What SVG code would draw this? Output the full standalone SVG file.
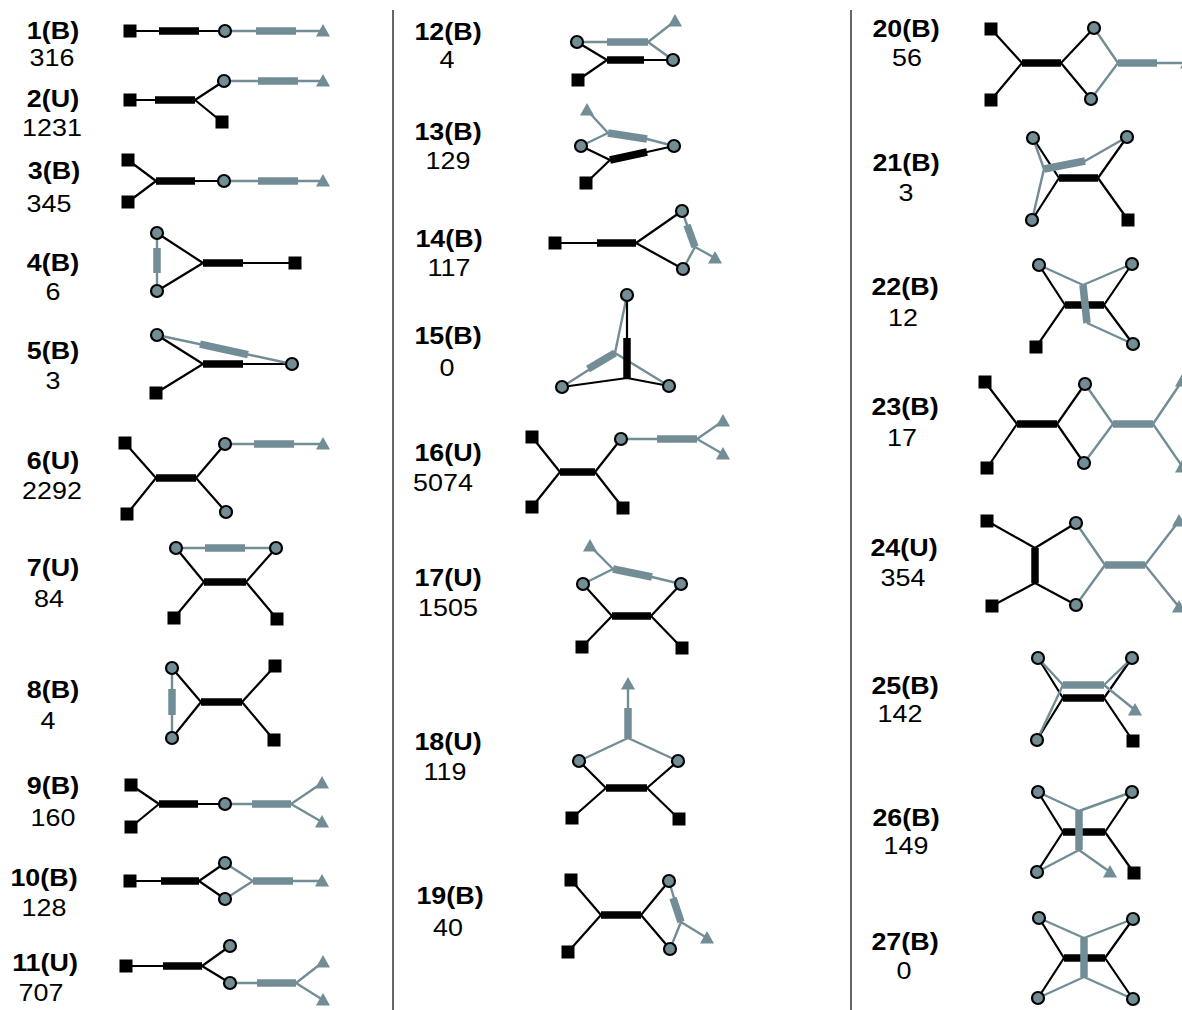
<svg xmlns="http://www.w3.org/2000/svg" xmlns:xlink="http://www.w3.org/1999/xlink" width="1182" height="1010" viewBox="0 0 1182 1010">
<style>
.k{stroke:#000;stroke-width:2.2;fill:none;stroke-linejoin:round}
.g{stroke:#728d95;stroke-width:2.4;fill:none;stroke-linejoin:round}
.kb{stroke:#000;stroke-width:7.5;fill:none}
.gb{stroke:#728d95;stroke-width:7.5;fill:none}
.sq{fill:#000}
.ci{fill:#728d95;stroke:#000;stroke-width:2.2}
.tr{fill:#728d95}
.lb{font-family:"Liberation Sans",Arial,sans-serif;font-weight:bold;font-size:24px;text-anchor:middle;fill:#000}
.nm{font-family:"Liberation Sans",Arial,sans-serif;font-size:24px;text-anchor:middle;fill:#000}
.sep{stroke:#333;stroke-width:1.5}
</style>
<defs>
<rect id="sq" x="-6.5" y="-6.5" width="13" height="13"/>
<circle id="ci" r="6"/>
<polygon id="tr" points="0,-7 7,5.5 -7,5.5"/>
</defs>
<rect width="1182" height="1010" fill="#fff"/>
<g id="separators">
<line class="sep" x1="393" y1="10" x2="393" y2="1010"/>
<line class="sep" x1="851" y1="10" x2="851" y2="1010"/>
</g>
<g id="connectors">
<g id="e1"><path class="k" d="M130,31 H225"/><path class="g" d="M225,31 H323"/><path class="kb" d="M159,31 H199"/><path class="gb" d="M256,31 H296"/></g>
<g id="e2"><path class="k" d="M130,100 H195 L224,81 M195,100 L222,122"/><path class="g" d="M224,81 H323"/><path class="kb" d="M155,100 H195"/><path class="gb" d="M258,81 H298"/></g>
<g id="e3"><path class="k" d="M128,160 L156,181 L128,202 M156,181 H224"/><path class="g" d="M224,181 H323"/><path class="kb" d="M156,181 H195"/><path class="gb" d="M258,181 H298"/></g>
<g id="e4"><path class="k" d="M157,233 L203,263 L157,291 M203,263 H295"/><path class="g" d="M157,233 V291"/><path class="kb" d="M203,263 H243"/><path class="gb" d="M157,248 V273"/></g>
<g id="e5"><path class="k" d="M157,335 L203,364 L156,393 M203,364 H292"/><path class="g" d="M157,335 L292,364"/><path class="kb" d="M203,364 H243"/><path class="gb" d="M200,344.2 L248,354.6"/></g>
<g id="e6"><path class="k" d="M125,443 L156,478 L127,514 M156,478 H196 L225,444 M196,478 L226,512"/><path class="g" d="M225,444 H323"/><path class="kb" d="M156,478 H196"/><path class="gb" d="M254,444 H294"/></g>
<g id="e7"><path class="k" d="M176,548 L204,582 L174,618 M204,582 H246 L276,548 M246,582 L277,619"/><path class="g" d="M176,548 H276"/><path class="kb" d="M204,582 H246"/><path class="gb" d="M205,548 H245"/></g>
<g id="e8"><path class="k" d="M172,668 L201,702 L172,738 M201,702 H242 L275,666 M242,702 L274,740"/><path class="g" d="M172,668 V738"/><path class="kb" d="M201,702 H242"/><path class="gb" d="M172,689 V715"/></g>
<g id="e9"><path class="k" d="M131,785 L159,804 L131,827 M159,804 H225"/><path class="g" d="M225,804 H291 L322,783 M291,804 L322,822"/><path class="kb" d="M159,804 H198"/><path class="gb" d="M252,804 H291"/></g>
<g id="e10"><path class="k" d="M130,881 H199 L225,863 M199,881 L225,899"/><path class="g" d="M225,863 L253,881 L225,899 M253,881 H322"/><path class="kb" d="M161,881 H199"/><path class="gb" d="M253,881 H293"/></g>
<g id="e11"><path class="k" d="M126,966 H202 L230,946 M202,966 L230,983"/><path class="g" d="M230,983 H296 L323,962 M296,983 L323,1000"/><path class="kb" d="M163,966 H202"/><path class="gb" d="M257,983 H296"/></g>
<g id="e12"><path class="k" d="M577,42 L607,60 L578,80 M607,60 H673"/><path class="g" d="M577,42 H648 L675,21 M648,42 L673,60"/><path class="kb" d="M607,60 H644"/><path class="gb" d="M607,42 H648"/></g>
<g id="e13"><path class="k" d="M581,146 L610,160 L586,183 M610,160 L647,152 L674,146"/><path class="g" d="M581,146 L608,133 L587,110 M608,133 L647,139 L674,146"/><path class="kb" d="M610,160 L647,152"/><path class="gb" d="M608,133 L647,139"/></g>
<g id="e14"><path class="k" d="M555,243 H636 L682,211 M636,243 L683,269"/><path class="g" d="M682,211 L695,247 L715,258 M695,247 L683,269"/><path class="kb" d="M597,243 H636"/><path class="gb" d="M687,225 L695,247"/></g>
<g id="e15"><path class="g" d="M627,295 L615,353 L562,387 M615,353 L669,386"/><path class="k" d="M627,295 V378 L562,387 M627,378 L669,386"/><path class="gb" d="M615,353 L588,369"/><path class="kb" d="M627,338 V378"/></g>
<g id="e16"><path class="k" d="M532,437 L560,472 L532,507 M560,472 H595 L621,439 M595,472 L623,508"/><path class="g" d="M621,439 H697 L723,421 M697,439 L723,454"/><path class="kb" d="M560,472 H595"/><path class="gb" d="M657,439 H697"/></g>
<g id="e17"><path class="k" d="M583,584 L612,616 L582,647 M612,616 H651 L681,584 M651,616 L682,648"/><path class="g" d="M583,584 L613,569 L590,546 M613,569 L652,577 L681,584"/><path class="kb" d="M612,616 H651"/><path class="gb" d="M613,569 L652,577"/></g>
<g id="e18"><path class="k" d="M579,761 L606,788 L572,818 M606,788 H647 L678,761 M647,788 L679,819"/><path class="g" d="M579,761 L628,738 L678,761 M628,738 V684"/><path class="kb" d="M606,788 H647"/><path class="gb" d="M628,708 V738"/></g>
<g id="e19"><path class="k" d="M571,880 L601,915 L568,952 M601,915 H641 L669,881 M641,915 L670,949"/><path class="g" d="M669,881 L681,922 L707,938 M681,922 L670,949"/><path class="kb" d="M601,915 H641"/><path class="gb" d="M673,898 L681,922"/></g>
<g id="e20"><path class="k" d="M991,29 L1022,63 L991,100 M1022,63 H1061 L1094,28 M1061,63 L1091,99"/><path class="g" d="M1094,28 L1118,63 L1091,99 M1118,63 H1186"/><path class="kb" d="M1022,63 H1061"/><path class="gb" d="M1118,63 H1157"/></g>
<g id="e21"><path class="k" d="M1033,138 L1059,178 L1032,220 M1059,178 H1098 L1127,137 M1098,178 L1128,220"/><path class="g" d="M1033,138 L1044,169 L1032,220 M1044,169 L1085,161 L1127,137"/><path class="kb" d="M1059,178 H1098"/><path class="gb" d="M1044,169 L1085,161"/></g>
<g id="e22"><path class="k" d="M1039,265 L1065,305 L1036,347 M1065,305 H1104 L1132,264 M1104,305 L1133,344"/><path class="g" d="M1039,265 L1083,285 L1132,264 M1087,323 L1133,344"/><path class="kb" d="M1065,305 H1104"/><path class="gb" d="M1083,285 L1087,323"/></g>
<g id="e23"><path class="k" d="M985,382 L1017,424 L987,468 M1017,424 H1057 L1085,384 M1057,424 L1084,463"/><path class="g" d="M1085,384 L1113,424 L1084,463 M1113,424 H1153 L1182,381 M1153,424 L1182,466"/><path class="kb" d="M1017,424 H1057"/><path class="gb" d="M1113,424 H1153"/></g>
<g id="e24"><path class="k" d="M987,521 L1035,548 L1076,523 M992,606 L1035,583 L1076,605"/><path class="g" d="M1076,523 L1105,565 L1076,605 M1105,565 H1145 L1179,521 M1145,565 L1179,607"/><path class="kb" d="M1035,548 V583"/><path class="gb" d="M1105,565 H1145"/></g>
<g id="e25"><path class="k" d="M1038,658 L1063,698 L1037,740 M1063,698 H1104 L1132,658 M1104,698 L1133,741"/><path class="g" d="M1038,658 L1063,685 L1037,740 M1063,685 H1104 L1132,658 M1104,685 L1135,710"/><path class="kb" d="M1063,698 H1104"/><path class="gb" d="M1063,685 H1104"/></g>
<g id="e26"><path class="k" d="M1038,792 L1063,832 L1037,872 M1063,832 H1105 L1132,792 M1105,832 L1134,873"/><path class="g" d="M1038,792 L1079,811 L1132,792 M1037,872 L1079,850 L1110,872"/><path class="kb" d="M1063,832 H1105"/><path class="gb" d="M1079,811 V850"/></g>
<g id="e27"><path class="k" d="M1039,918 L1064,958 L1038,998 M1064,958 H1105 L1133,919 M1105,958 L1133,999"/><path class="g" d="M1039,918 L1084,938 L1133,919 M1038,998 L1084,977 L1133,999"/><path class="kb" d="M1064,958 H1105"/><path class="gb" d="M1084,938 V977"/></g>
</g>
<g id="m1"><use href="#sq" class="sq" x="130" y="31"/><use href="#ci" class="ci" x="225" y="31"/><use href="#tr" class="tr" x="323" y="31"/><text class="lb" transform="translate(53,39) scale(1.12,1)">1(B)</text><text class="nm" transform="translate(52,66) scale(1.12,1)">316</text></g>
<g id="m2"><use href="#sq" class="sq" x="130" y="100"/><use href="#sq" class="sq" x="222" y="122"/><use href="#ci" class="ci" x="224" y="81"/><use href="#tr" class="tr" x="323" y="81"/><text class="lb" transform="translate(53,107) scale(1.12,1)">2(U)</text><text class="nm" transform="translate(52,136) scale(1.12,1)">1231</text></g>
<g id="m3"><use href="#sq" class="sq" x="128" y="160"/><use href="#sq" class="sq" x="128" y="202"/><use href="#ci" class="ci" x="224" y="181"/><use href="#tr" class="tr" x="323" y="181"/><text class="lb" transform="translate(54,179) scale(1.12,1)">3(B)</text><text class="nm" transform="translate(49,212) scale(1.12,1)">345</text></g>
<g id="m4"><use href="#ci" class="ci" x="157" y="233"/><use href="#ci" class="ci" x="157" y="291"/><use href="#sq" class="sq" x="295" y="263"/><text class="lb" transform="translate(53,271) scale(1.12,1)">4(B)</text><text class="nm" transform="translate(53,300) scale(1.12,1)">6</text></g>
<g id="m5"><use href="#ci" class="ci" x="157" y="335"/><use href="#ci" class="ci" x="292" y="364"/><use href="#sq" class="sq" x="156" y="393"/><text class="lb" transform="translate(53,359) scale(1.12,1)">5(B)</text><text class="nm" transform="translate(53,389) scale(1.12,1)">3</text></g>
<g id="m6"><use href="#sq" class="sq" x="125" y="443"/><use href="#sq" class="sq" x="127" y="514"/><use href="#ci" class="ci" x="225" y="444"/><use href="#ci" class="ci" x="226" y="512"/><use href="#tr" class="tr" x="323" y="444"/><text class="lb" transform="translate(53,469) scale(1.12,1)">6(U)</text><text class="nm" transform="translate(52,499) scale(1.12,1)">2292</text></g>
<g id="m7"><use href="#ci" class="ci" x="176" y="548"/><use href="#ci" class="ci" x="276" y="548"/><use href="#sq" class="sq" x="174" y="618"/><use href="#sq" class="sq" x="277" y="619"/><text class="lb" transform="translate(53,576) scale(1.12,1)">7(U)</text><text class="nm" transform="translate(49,607) scale(1.12,1)">84</text></g>
<g id="m8"><use href="#ci" class="ci" x="172" y="668"/><use href="#ci" class="ci" x="172" y="738"/><use href="#sq" class="sq" x="275" y="666"/><use href="#sq" class="sq" x="274" y="740"/><text class="lb" transform="translate(53,698) scale(1.12,1)">8(B)</text><text class="nm" transform="translate(48,729) scale(1.12,1)">4</text></g>
<g id="m9"><use href="#sq" class="sq" x="131" y="785"/><use href="#sq" class="sq" x="131" y="827"/><use href="#ci" class="ci" x="225" y="804"/><use href="#tr" class="tr" x="322" y="783"/><use href="#tr" class="tr" x="322" y="822"/><text class="lb" transform="translate(53,794) scale(1.12,1)">9(B)</text><text class="nm" transform="translate(53,826) scale(1.12,1)">160</text></g>
<g id="m10"><use href="#sq" class="sq" x="130" y="881"/><use href="#ci" class="ci" x="225" y="863"/><use href="#ci" class="ci" x="225" y="899"/><use href="#tr" class="tr" x="322" y="881"/><text class="lb" transform="translate(44,886) scale(1.12,1)">10(B)</text><text class="nm" transform="translate(44,916) scale(1.12,1)">128</text></g>
<g id="m11"><use href="#sq" class="sq" x="126" y="966"/><use href="#ci" class="ci" x="230" y="946"/><use href="#ci" class="ci" x="230" y="983"/><use href="#tr" class="tr" x="323" y="962"/><use href="#tr" class="tr" x="323" y="1000"/><text class="lb" transform="translate(45,971) scale(1.12,1)">11(U)</text><text class="nm" transform="translate(41,1001) scale(1.12,1)">707</text></g>
<g id="m12"><use href="#ci" class="ci" x="577" y="42"/><use href="#ci" class="ci" x="673" y="60"/><use href="#sq" class="sq" x="578" y="80"/><use href="#tr" class="tr" x="675" y="21"/><text class="lb" transform="translate(448,40) scale(1.12,1)">12(B)</text><text class="nm" transform="translate(447,68) scale(1.12,1)">4</text></g>
<g id="m13"><use href="#ci" class="ci" x="581" y="146"/><use href="#ci" class="ci" x="674" y="146"/><use href="#sq" class="sq" x="586" y="183"/><use href="#tr" class="tr" x="587" y="110"/><text class="lb" transform="translate(448,140) scale(1.12,1)">13(B)</text><text class="nm" transform="translate(448,169) scale(1.12,1)">129</text></g>
<g id="m14"><use href="#sq" class="sq" x="555" y="243"/><use href="#ci" class="ci" x="682" y="211"/><use href="#ci" class="ci" x="683" y="269"/><use href="#tr" class="tr" x="715" y="258"/><text class="lb" transform="translate(449,247) scale(1.12,1)">14(B)</text><text class="nm" transform="translate(449,276) scale(1.12,1)">117</text></g>
<g id="m15"><use href="#ci" class="ci" x="627" y="295"/><use href="#ci" class="ci" x="562" y="387"/><use href="#ci" class="ci" x="669" y="386"/><text class="lb" transform="translate(448,344) scale(1.12,1)">15(B)</text><text class="nm" transform="translate(447,376) scale(1.12,1)">0</text></g>
<g id="m16"><use href="#sq" class="sq" x="532" y="437"/><use href="#sq" class="sq" x="532" y="507"/><use href="#sq" class="sq" x="623" y="508"/><use href="#ci" class="ci" x="621" y="439"/><use href="#tr" class="tr" x="723" y="421"/><use href="#tr" class="tr" x="723" y="454"/><text class="lb" transform="translate(448,461) scale(1.12,1)">16(U)</text><text class="nm" transform="translate(443,491) scale(1.12,1)">5074</text></g>
<g id="m17"><use href="#ci" class="ci" x="583" y="584"/><use href="#ci" class="ci" x="681" y="584"/><use href="#sq" class="sq" x="582" y="647"/><use href="#sq" class="sq" x="682" y="648"/><use href="#tr" class="tr" x="590" y="546"/><text class="lb" transform="translate(448,586) scale(1.12,1)">17(U)</text><text class="nm" transform="translate(448,616) scale(1.12,1)">1505</text></g>
<g id="m18"><use href="#ci" class="ci" x="579" y="761"/><use href="#ci" class="ci" x="678" y="761"/><use href="#sq" class="sq" x="572" y="818"/><use href="#sq" class="sq" x="679" y="819"/><use href="#tr" class="tr" x="628" y="684"/><text class="lb" transform="translate(448,750) scale(1.12,1)">18(U)</text><text class="nm" transform="translate(445,780) scale(1.12,1)">119</text></g>
<g id="m19"><use href="#sq" class="sq" x="571" y="880"/><use href="#sq" class="sq" x="568" y="952"/><use href="#ci" class="ci" x="669" y="881"/><use href="#ci" class="ci" x="670" y="949"/><use href="#tr" class="tr" x="707" y="938"/><text class="lb" transform="translate(450,904) scale(1.12,1)">19(B)</text><text class="nm" transform="translate(448,936) scale(1.12,1)">40</text></g>
<g id="m20"><use href="#sq" class="sq" x="991" y="29"/><use href="#sq" class="sq" x="991" y="100"/><use href="#ci" class="ci" x="1094" y="28"/><use href="#ci" class="ci" x="1091" y="99"/><use href="#tr" class="tr" x="1187" y="63"/><text class="lb" transform="translate(906,37) scale(1.12,1)">20(B)</text><text class="nm" transform="translate(907,66) scale(1.12,1)">56</text></g>
<g id="m21"><use href="#ci" class="ci" x="1033" y="138"/><use href="#ci" class="ci" x="1127" y="137"/><use href="#ci" class="ci" x="1032" y="220"/><use href="#sq" class="sq" x="1128" y="220"/><text class="lb" transform="translate(906,171) scale(1.12,1)">21(B)</text><text class="nm" transform="translate(906,201) scale(1.12,1)">3</text></g>
<g id="m22"><use href="#ci" class="ci" x="1039" y="265"/><use href="#ci" class="ci" x="1132" y="264"/><use href="#ci" class="ci" x="1133" y="344"/><use href="#sq" class="sq" x="1036" y="347"/><text class="lb" transform="translate(905,295) scale(1.12,1)">22(B)</text><text class="nm" transform="translate(903,326) scale(1.12,1)">12</text></g>
<g id="m23"><use href="#sq" class="sq" x="985" y="382"/><use href="#sq" class="sq" x="987" y="468"/><use href="#ci" class="ci" x="1085" y="384"/><use href="#ci" class="ci" x="1084" y="463"/><use href="#tr" class="tr" x="1182" y="381"/><use href="#tr" class="tr" x="1182" y="467"/><text class="lb" transform="translate(905,415) scale(1.12,1)">23(B)</text><text class="nm" transform="translate(902,446) scale(1.12,1)">17</text></g>
<g id="m24"><use href="#sq" class="sq" x="987" y="521"/><use href="#sq" class="sq" x="992" y="606"/><use href="#ci" class="ci" x="1076" y="523"/><use href="#ci" class="ci" x="1076" y="605"/><use href="#tr" class="tr" x="1179" y="521"/><use href="#tr" class="tr" x="1179" y="607"/><text class="lb" transform="translate(904,556) scale(1.12,1)">24(U)</text><text class="nm" transform="translate(903,586) scale(1.12,1)">354</text></g>
<g id="m25"><use href="#ci" class="ci" x="1038" y="658"/><use href="#ci" class="ci" x="1132" y="658"/><use href="#ci" class="ci" x="1037" y="740"/><use href="#sq" class="sq" x="1133" y="741"/><use href="#tr" class="tr" x="1135" y="710"/><text class="lb" transform="translate(905,694) scale(1.12,1)">25(B)</text><text class="nm" transform="translate(900,722) scale(1.12,1)">142</text></g>
<g id="m26"><use href="#ci" class="ci" x="1038" y="792"/><use href="#ci" class="ci" x="1132" y="792"/><use href="#ci" class="ci" x="1037" y="872"/><use href="#sq" class="sq" x="1134" y="873"/><use href="#tr" class="tr" x="1110" y="872"/><text class="lb" transform="translate(906,826) scale(1.12,1)">26(B)</text><text class="nm" transform="translate(906,854) scale(1.12,1)">149</text></g>
<g id="m27"><use href="#ci" class="ci" x="1039" y="918"/><use href="#ci" class="ci" x="1133" y="919"/><use href="#ci" class="ci" x="1038" y="998"/><use href="#ci" class="ci" x="1133" y="999"/><text class="lb" transform="translate(905,950) scale(1.12,1)">27(B)</text><text class="nm" transform="translate(904,979) scale(1.12,1)">0</text></g>
</svg>
